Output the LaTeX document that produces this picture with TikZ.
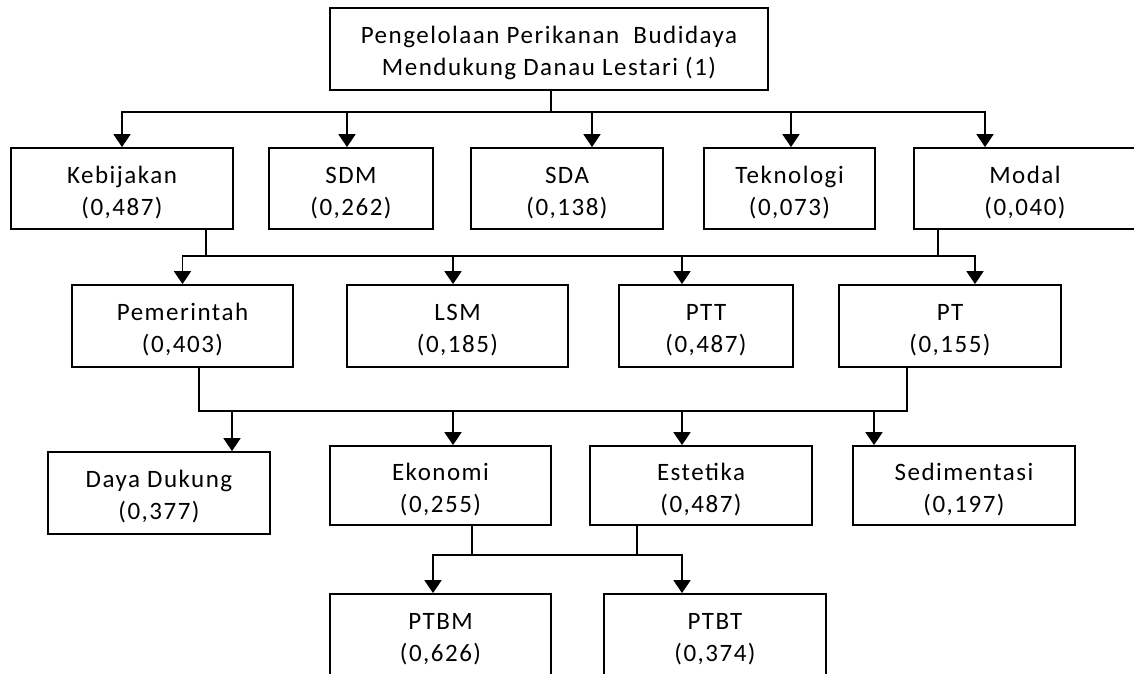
\documentclass[tikz,border=0pt]{standalone}
\usepackage{fontspec}
\setmainfont{Carlito}[LetterSpace=6]
\usetikzlibrary{arrows.meta}
\newcommand\twoline[2]{\rule{0pt}{28pt}#1\\#2\rule[-7pt]{0pt}{7pt}}
\begin{document}
\begin{tikzpicture}[x=1pt,y=-1pt,
  box/.style={draw,line width=1.8pt,inner sep=0pt,align=center,font=\fontsize{25}{32}\selectfont},
  conn/.style={line width=1.8pt},
  arr/.style={conn,-{Triangle[width=17pt,length=13pt]}}]
\useasboundingbox[fill=white] (0,0) rectangle (1134,673);
% top
\node[box,minimum width=438pt,minimum height=82pt] (top) at (549,49) {\twoline{Pengelolaan Perikanan~ Budidaya}{Mendukung Danau Lestari (1)}};
% row 1
\node[box,minimum width=222pt,minimum height=81pt] (keb) at (122,188.5) {\twoline{Kebijakan}{(0,487)}};
\node[box,minimum width=164pt,minimum height=81pt] (sdm) at (351,188.5) {\twoline{SDM}{(0,262)}};
\node[box,minimum width=192pt,minimum height=81pt] (sda) at (567,188.5) {\twoline{SDA}{(0,138)}};
\node[box,minimum width=171pt,minimum height=81pt] (tek) at (789.5,188.5) {\twoline{Teknologi}{(0,073)}};
\node[box,minimum width=222pt,minimum height=81pt] (mod) at (1025,188.5) {\twoline{Modal}{(0,040)}};
% row 2
\node[box,minimum width=221pt,minimum height=82pt] (pem) at (182.5,326) {\twoline{Pemerintah}{(0,403)}};
\node[box,minimum width=221pt,minimum height=82pt] (lsm) at (457.5,326) {\twoline{LSM}{(0,185)}};
\node[box,minimum width=174pt,minimum height=82pt] (ptt) at (706,326) {\twoline{PTT}{(0,487)}};
\node[box,minimum width=222pt,minimum height=82pt] (pt) at (950,326) {\twoline{PT}{(0,155)}};
% row 3
\node[box,minimum width=222pt,minimum height=82pt] (dd) at (159,493) {\twoline{Daya Dukung}{(0,377)}};
\node[box,minimum width=221pt,minimum height=79pt] (eko) at (440.5,485.5) {\twoline{Ekonomi}{(0,255)}};
\node[box,minimum width=222pt,minimum height=79pt] (est) at (701,485.5) {\twoline{Estetika}{(0,487)}};
\node[box,minimum width=222pt,minimum height=79pt] (sed) at (964,485.5) {\twoline{Sedimentasi}{(0,197)}};
% row 4
\node[box,minimum width=221pt,minimum height=82pt] (ptbm) at (440.5,635) {\twoline{PTBM}{(0,626)}};
\node[box,minimum width=222pt,minimum height=82pt] (ptbt) at (715,635) {\twoline{PTBT}{(0,374)}};
% level 1 connectors
\coordinate (j1) at (551,112);
\draw[conn] ([xshift=2pt]top.south) -- (j1);
\draw[arr] (j1) -| (keb.north);
\draw[arr] (j1) -| ([xshift=-4pt]sdm.north);
\draw[arr] (j1) -| ([xshift=25pt]sda.north);
\draw[arr] (j1) -| ([xshift=1.5pt]tek.north);
\draw[arr] (j1) -| ([xshift=-40pt]mod.north);
% level 2
\coordinate (j2a) at (206,256);
\coordinate (j2b) at (938,256);
\draw[conn] ([xshift=84pt]keb.south) -- (j2a);
\draw[conn] ([xshift=-87pt]mod.south) -- (j2b);
\draw[conn] (j2a) -- (j2b);
\draw[arr] (j2a) -| (pem.north);
\draw[arr] (j2a) -| ([xshift=-4.5pt]lsm.north);
\draw[arr] (j2b) -| ([xshift=-24pt]ptt.north);
\draw[arr] (j2b) -| ([xshift=25pt]pt.north);
% level 3
\coordinate (j3a) at (199,411);
\coordinate (j3b) at (907,411);
\draw[conn] ([xshift=16.5pt]pem.south) -- (j3a) -- (j3b) -- ([xshift=-43pt]pt.south);
\draw[arr] (j3a) -| ([xshift=73pt]dd.north);
\draw[arr] (j3a) -| ([xshift=12.5pt]eko.north);
\draw[arr] (j3b) -| ([xshift=-19pt]est.north);
\draw[arr] (j3b) -| ([xshift=-90pt]sed.north);
% level 4
\coordinate (j4a) at (472,555);
\coordinate (j4b) at (637,555);
\draw[conn] ([xshift=31.5pt]eko.south) -- (j4a);
\draw[conn] ([xshift=-64pt]est.south) -- (j4b);
\draw[conn] (j4a) -- (j4b);
\draw[arr] (j4a) -| ([xshift=-7.5pt]ptbm.north);
\draw[arr] (j4b) -| ([xshift=-33pt]ptbt.north);
\end{tikzpicture}
\end{document}
